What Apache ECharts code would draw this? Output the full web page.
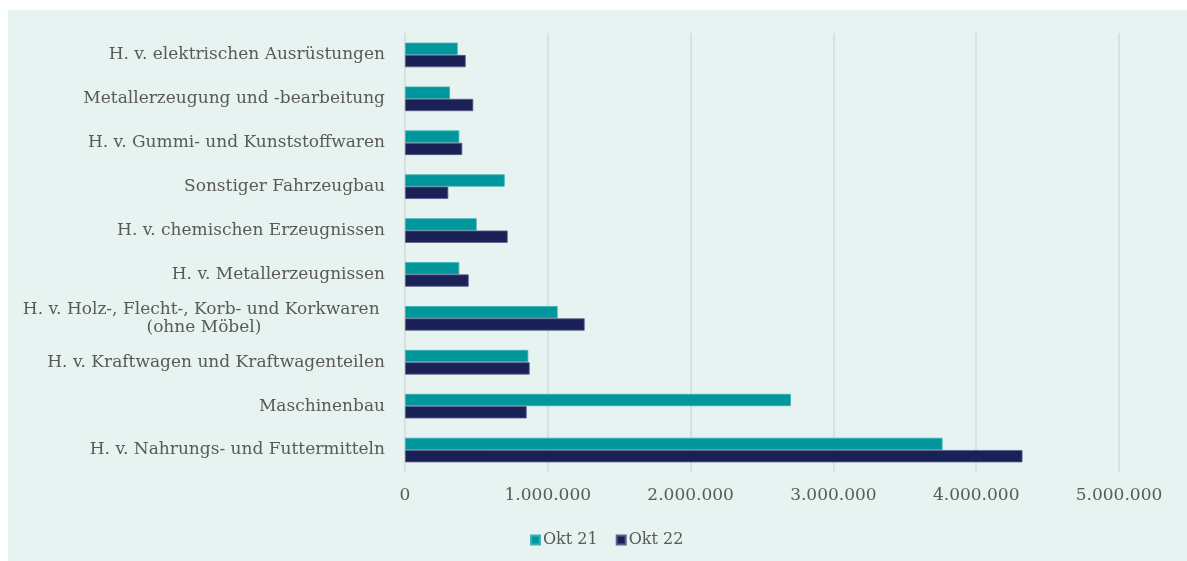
<!DOCTYPE html>
<html>
<head>
<meta charset="utf-8">
<script src="https://cdn.jsdelivr.net/npm/echarts@6/dist/echarts.min.js"></script>
<style>
  body { margin: 0; background: #ffffff; }
  #panel {
    position: absolute;
    left: 8px;
    top: 10px;
    width: 1179px;
    height: 551px;
    background-color: #e7f3f1;
  }
  #chart { width: 1179px; height: 551px; }
</style>
</head>
<body>
<div id="panel">
  <div id="chart"></div>
</div>
<script>
// Kategorien von oben nach unten
var categories = [
  'H. v. elektrischen Ausrüstungen',
  'Metallerzeugung und -bearbeitung',
  'H. v. Gummi- und Kunststoffwaren',
  'Sonstiger Fahrzeugbau',
  'H. v. chemischen Erzeugnissen',
  'H. v. Metallerzeugnissen',
  'H. v. Holz-, Flecht-, Korb- und Korkwaren \n(ohne Möbel)',
  'H. v. Kraftwagen und Kraftwagenteilen',
  'Maschinenbau',
  'H. v. Nahrungs- und Futtermitteln'
]
var seriesNames = ['Okt 21', 'Okt 22']
var okt21 = [369000, 315000, 380000, 698000, 502000, 380000, 1069000, 863000, 2702000, 3764000]
var okt22 = [425000, 478000, 401000, 303000, 719000, 446000, 1258000, 873000, 852000, 4324000]

var textColor = '#595959'
var fontName = 'DejaVu Serif'

function formatDe (v) {
  return String(v).replace(/\B(?=(\d{3})+(?!\d))/g, '.')
}

var chart = echarts.init(document.getElementById('chart'))
chart.setOption({
  animation: false,
  textStyle: { fontFamily: fontName },
  grid: {
    left: 397,
    right: 68,
    top: 23,
    bottom: 89
  },
  legend: {
    data: seriesNames,
    bottom: 8,
    left: 517,
    itemWidth: 9,
    itemHeight: 9,
    itemGap: 18,
    icon: 'rect',
    textStyle: { color: textColor, fontSize: 16, fontFamily: fontName, padding: [0, 0, 0, -2] }
  },
  xAxis: {
    type: 'value',
    min: 0,
    max: 5000000,
    interval: 1000000,
    axisLine: { show: false },
    axisTick: { show: false },
    splitLine: { lineStyle: { color: '#d6d9d9', width: 1.5 } },
    axisLabel: {
      color: textColor,
      fontSize: 17,
      margin: 15,
      formatter: formatDe
    }
  },
  yAxis: {
    type: 'category',
    inverse: true,
    data: categories,
    axisLine: { show: false },
    axisTick: { show: false },
    axisLabel: {
      color: textColor,
      fontSize: 17,
      margin: 20,
      lineHeight: 18,
      formatter: function (v) {
        if (v.indexOf('\n') >= 0) {
          return v.split('\n').map(function (s) { return '{c|' + s + '}' }).join('\n')
        }
        return v
      },
      rich: {
        c: { align: 'center', color: textColor, fontSize: 17, fontFamily: fontName, lineHeight: 18 }
      }
    }
  },
  series: [
    {
      name: seriesNames[0],
      type: 'bar',
      data: okt21,
      barGap: '0%',
      barCategoryGap: '44%',
      itemStyle: { color: '#00979c', borderColor: '#3fb0b3', borderWidth: 0.8 }
    },
    {
      name: seriesNames[1],
      type: 'bar',
      data: okt22,
      itemStyle: { color: '#1a2157', borderColor: '#5a5f88', borderWidth: 0.8 }
    }
  ]
})
</script>
</body>
</html>
